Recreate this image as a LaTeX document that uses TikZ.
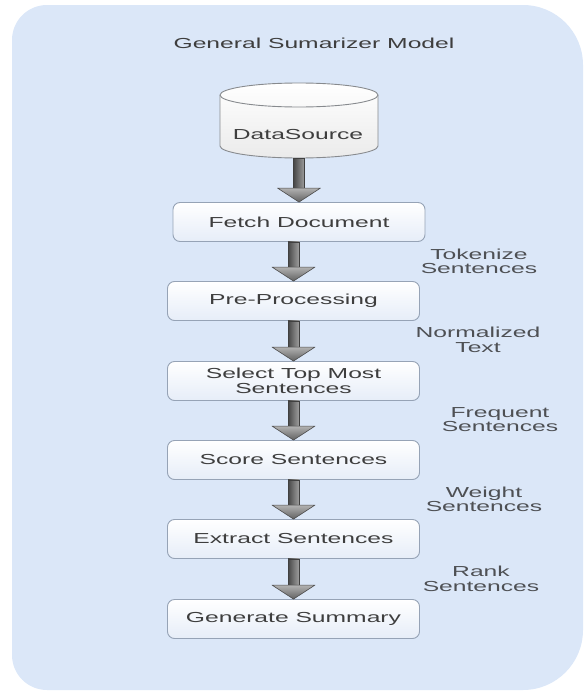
\documentclass[tikz,border=0pt]{standalone}
\usepackage{fontspec}
\setmainfont{Liberation Sans}[FakeStretch=1.7]
\usetikzlibrary{calc}
\definecolor{bgblue}{RGB}{219,231,248}
\definecolor{boxborder}{RGB}{150,163,182}
\definecolor{boxbot}{RGB}{230,237,248}
\definecolor{txt}{RGB}{62,62,62}
\definecolor{lbltxt}{RGB}{78,80,84}
\definecolor{cylborder}{RGB}{135,138,142}
\newcommand\blockarr[2]{%
  \path[shaftstyle] let \p1=(#1.south), \p2=(#2.north) in
    (\x2-5.5,\y1) rectangle (\x2+5.5,\y2+14);
  \path[headstyle] let \p1=(#1.south), \p2=(#2.north) in
    (\x2-21.5,\y2+14) -- (\x2+21.5,\y2+14) -- (\x2,\y2) -- cycle;
}
\begin{document}
\begin{tikzpicture}[x=1pt,y=1pt,
  font=\fontsize{14.5}{14.5}\selectfont,
  stepbox/.style={draw=boxborder, line width=0.9pt, rounded corners=7pt,
    top color=white, bottom color=boxbot, minimum width=252pt,
    minimum height=39pt, inner sep=0pt, align=center, text=txt},
  lbl/.style={align=center, text=lbltxt, inner sep=0pt},
  shaftstyle/.style={draw=black!75, line width=0.6pt, left color=black!72, right color=black!38},
  headstyle/.style={draw=black!70, line width=0.6pt, top color=black!30, bottom color=black!62, line join=round},
  cylstyle/.style={draw=cylborder, line width=0.9pt, top color=white, bottom color=black!8}]
\useasboundingbox (0,0) rectangle (587,-696);
% background panel
\fill[bgblue] (12,-40) arc[start angle=180,end angle=90,radius=35]
  -- (523,-5) arc[start angle=90,end angle=0,radius=60]
  -- (583,-630) arc[start angle=0,end angle=-90,radius=60]
  -- (47,-690) arc[start angle=270,end angle=180,radius=35] -- cycle;
% title
\node[text=txt] (title) at (314,-43) {General Sumarizer Model};
% cylinder
\path[cylstyle] (220,-95) -- (220,-146)
  arc[start angle=180,end angle=360,x radius=79,y radius=12]
  -- (378,-95) arc[start angle=0,end angle=180,x radius=79,y radius=12] -- cycle;
\draw[draw=cylborder, line width=0.9pt] (220,-95) arc[start angle=180,end angle=360,x radius=79,y radius=12];
\node[minimum width=158pt, minimum height=75pt, inner sep=0pt] (ds) at (299,-120.5) {};
\node[text=txt] (dstext) at (298,-135) {DataSource};
% boxes
\node[stepbox] (fetch) at (299,-222) {Fetch Document};
\node[stepbox] (pre) at (293.5,-301) {Pre-Processing};
\node[stepbox] (sel) at (293.5,-381) {Select Top Most\\Sentences};
\node[stepbox] (score) at (293.5,-460) {Score Sentences};
\node[stepbox] (extr) at (293.5,-539) {Extract Sentences};
\node[stepbox] (gen) at (293.5,-619) {Generate Summary};
% arrows
\blockarr{ds}{fetch}
\blockarr{fetch}{pre}
\blockarr{pre}{sel}
\blockarr{sel}{score}
\blockarr{score}{extr}
\blockarr{extr}{gen}
% labels
\node[lbl] (l1) at (479,-261.5) {Tokenize\\Sentences};
\node[lbl] (l2) at (478,-340) {Normalized\\Text};
\node[lbl] (l3) at (500,-419.5) {Frequent\\Sentences};
\node[lbl] (l4) at (484,-499.5) {Weight\\Sentences};
\node[lbl] (l5) at (481,-579) {Rank\\Sentences};
\end{tikzpicture}
\end{document}
